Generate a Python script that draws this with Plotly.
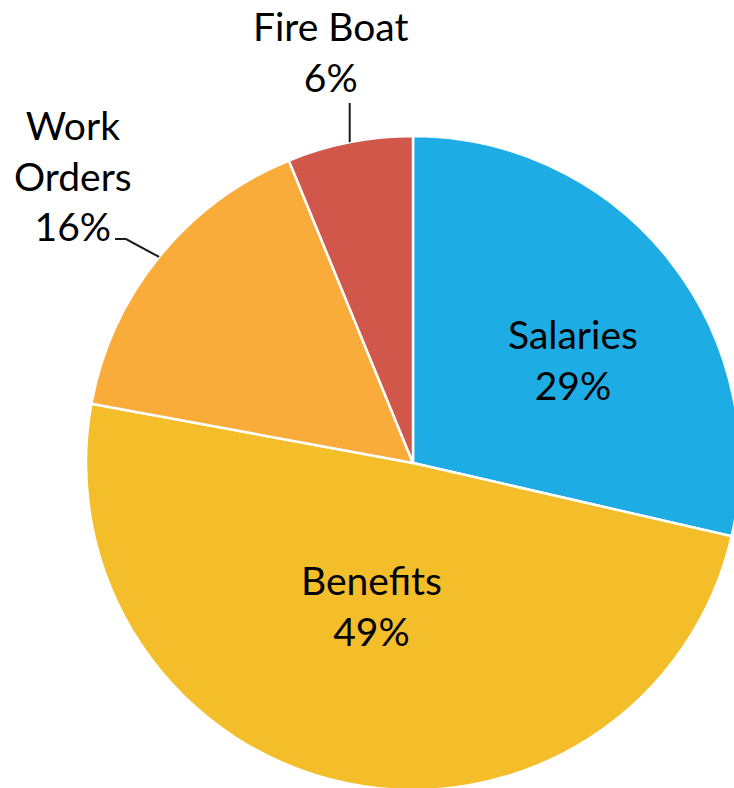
import math
import plotly.graph_objects as go

# Budget breakdown (percent of total)
categories = ["Salaries", "Benefits", "Work Orders", "Fire Boat"]
values = [28.6, 49.3, 15.9, 6.2]
colors = ["#1DACE3", "#F4BD2A", "#F9AC3A", "#D0574A"]

# Page / pie geometry in pixels
W, H = 760, 800
CX, CY, R = 413, 463, 327
FONT = dict(family="Lato, 'Open Sans', sans-serif", size=39, color="#000000")

# Label text block centres (pixels) and leader routing
label_pos = {
    "Salaries": (573, 359),
    "Benefits": (371, 605),
    "Work Orders": (73, 175),
    "Fire Boat": (330, 52),
}
leader_route = {
    "Work Orders": [(126, 239), (115, 239)],
    "Fire Boat": [(None, 103)],
}
label_lines = {"Work Orders": "Work<br>Orders"}


def px(x):
    return x / W


def py(y):
    return 1 - y / H


fig = go.Figure(
    go.Pie(
        labels=categories,
        values=values,
        sort=False,
        direction="clockwise",
        rotation=0,
        textinfo="none",
        hoverinfo="label+percent",
        marker=dict(colors=colors, line=dict(color="#FFFFFF", width=2.5)),
        domain=dict(x=[px(CX - R), px(CX + R)], y=[py(CY + R), py(CY - R)]),
        showlegend=False,
    )
)

total = sum(values)
annotations = []
shapes = []
cum = 0.0
for name, v in zip(categories, values):
    mid = (cum + v / 2) / total * 2 * math.pi
    cum += v
    pct = round(v / total * 100)
    lx, ly = label_pos[name]
    annotations.append(
        dict(
            x=px(lx), y=py(ly), xref="paper", yref="paper",
            text=f"{label_lines.get(name, name)}<br>{pct}%",
            showarrow=False, font=FONT, align="center",
            xanchor="center", yanchor="middle",
        )
    )
    if name in leader_route:
        ex = CX + R * math.sin(mid)
        ey = CY - R * math.cos(mid)
        pts = [(ex, ey)]
        for qx, qy in leader_route[name]:
            pts.append((ex if qx is None else qx, qy))
        path = "M " + " L ".join(f"{px(a):.5f},{py(b):.5f}" for a, b in pts)
        shapes.append(
            dict(type="path", path=path, xref="paper", yref="paper",
                 line=dict(color="#1A1A1A", width=2))
        )

fig.update_layout(
    width=W,
    height=H,
    margin=dict(l=0, r=0, t=0, b=0),
    paper_bgcolor="#FFFFFF",
    plot_bgcolor="#FFFFFF",
    annotations=annotations,
    shapes=shapes,
)

fig.write_html(
    "out.html",
    post_script="document.body.style.margin='0';document.body.style.overflow='hidden';",
)
